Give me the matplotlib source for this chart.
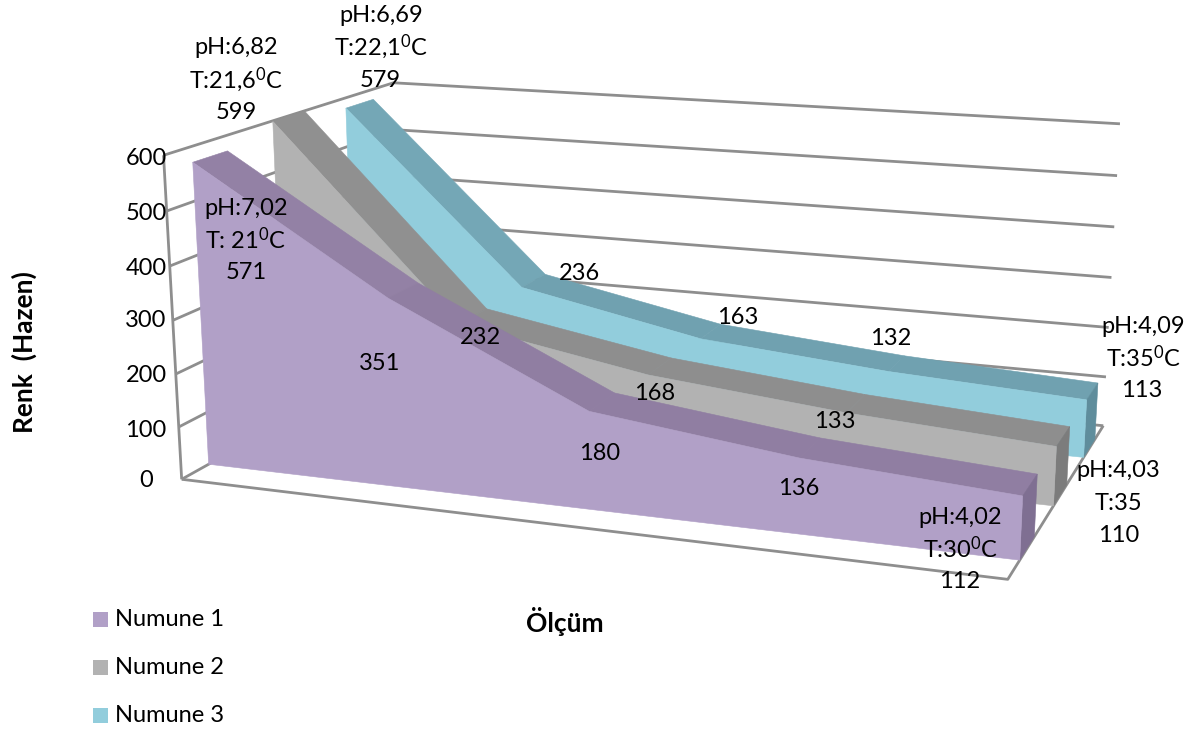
#!/usr/bin/python
# -*- coding: utf-8 -*-

import matplotlib
matplotlib.use('Agg')
import matplotlib.pyplot as plt
import numpy as np
from matplotlib.patches import Rectangle

# measurements per sample, five points along the x axis
numune_1 = [571, 351, 180, 136, 112]
numune_2 = [599, 232, 168, 133, 110]
numune_3 = [579, 236, 163, 132, 113]

series_names = ['Numune 1', 'Numune 2', 'Numune 3']
y_ticks = [0, 100, 200, 300, 400, 500, 600]

face_colors = ['#B1A0C7', '#B2B2B2', '#92CDDC']
top_colors = ['#9381A5', '#909090', '#74A7B6']
top_colors_far = ['#907EA2', '#8E8E8E', '#70A1B0']
end_colors = ['#7F6F92', '#7C7C7C', '#5F8D9C']
grid_color = '#8E8E8E'

# slot of each series along the depth axis
depth_slots = [(0.105, 0.24), (0.43, 0.57), (0.76, 0.895)]

Y_MAX = 600.0

# box corners (u, depth, height) and where they land on the canvas
box_corners = [(0, 0, 0), (1, 0, 0), (1, 1, 0), (0, 1, 0),
               (0, 0, 1), (0, 1, 1), (1, 1, 1)]
canvas_corners = [(181, 478), (1008, 580), (1103, 425), (402, 358),
                  (164, 156), (393, 82), (1120, 124)]


def fit_projection(world, canvas):
    rows = []
    for (x, y, z), (px, py) in zip(world, canvas):
        rows.append([x, y, z, 1, 0, 0, 0, 0, -px*x, -px*y, -px*z, -px])
        rows.append([0, 0, 0, 0, x, y, z, 1, -py*x, -py*y, -py*z, -py])
    _, _, vt = np.linalg.svd(np.array(rows, dtype=float))
    return vt[-1].reshape(3, 4)


P = fit_projection(box_corners, canvas_corners)


def project(u, d, value):
    q = P @ np.array([u, d, value / Y_MAX, 1.0])
    return q[0] / q[2], q[1] / q[2]


def polygon(ax, points, color, zorder):
    xs, ys = zip(*[project(*p) for p in points])
    ax.fill(xs, ys, facecolor=color, edgecolor=color, linewidth=0.4, zorder=zorder)


def line3d(ax, points):
    xs, ys = zip(*[project(*p) for p in points])
    ax.plot(xs, ys, color=grid_color, linewidth=2.0, solid_capstyle='butt', zorder=1)


def draw_area(ax, values, slot, face, top, top_far, end, zorder):
    d0, d1 = slot
    us = np.linspace(0, 1, len(values))
    for i in range(len(values) - 1):
        color = top if i == 0 else top_far
        polygon(ax, [(us[i], d0, values[i]), (us[i+1], d0, values[i+1]),
                     (us[i+1], d1, values[i+1]), (us[i], d1, values[i])], color, zorder)
    # closing end on the right
    polygon(ax, [(1, d0, 0), (1, d1, 0), (1, d1, values[-1]), (1, d0, values[-1])], end, zorder)
    front = [(u, d0, v) for u, v in zip(us, values)] + [(1, d0, 0), (0, d0, 0)]
    polygon(ax, front, face, zorder + 0.1)


plt.rcParams['font.family'] = ['Lato', 'DejaVu Sans']
plt.rcParams['mathtext.default'] = 'regular'

fig = plt.figure(figsize=(12.02, 7.29), dpi=100)
ax = fig.add_axes([0, 0, 1, 1])
ax.set_xlim(0, 1202)
ax.set_ylim(729, 0)
ax.axis('off')

# walls and floor outline
for tick in y_ticks:
    line3d(ax, [(0, 0, tick), (0, 1, tick), (1, 1, tick)])
line3d(ax, [(0, 0, 0), (0, 0, Y_MAX)])
line3d(ax, [(0, 0, 0), (1, 0, 0), (1, 1, 0)])

all_series = [numune_1, numune_2, numune_3]
for i in [2, 1, 0]:
    draw_area(ax, all_series[i], depth_slots[i], face_colors[i], top_colors[i],
              top_colors_far[i], end_colors[i], 3 + (2 - i))

TEXT_SIZE = 17

tick_y = [480, 430, 375, 320, 268, 213, 158]
for tick, y in zip(y_ticks, tick_y):
    ax.text(146, y, str(tick), ha='center', va='center', fontsize=TEXT_SIZE, zorder=10)

value_labels = [
    (381, 15, 'pH:6,69'), (381, 47, 'T:22,1$^{0}$C'), (380, 80, '579'),
    (236, 47, 'pH:6,82'), (236, 80, 'T:21,6$^{0}$C'), (236, 112, '599'),
    (246, 208, 'pH:7,02'), (246, 240, 'T: 21$^{0}$C'), (246, 272, '571'),
    (380, 363, '351'), (480, 337, '232'), (600, 453, '180'),
    (655, 393, '168'), (799, 488, '136'), (835, 421, '133'),
    (580, 273, '236'), (738, 317, '163'), (891, 338, '132'),
    (1143, 326, 'pH:4,09'), (1143, 358, 'T:35$^{0}$C'), (1142, 390, '113'),
    (1118, 470, 'pH:4,03'), (1118, 503, 'T:35'), (1119, 535, '110'),
    (960, 517, 'pH:4,02'), (960, 549, 'T:30$^{0}$C'), (960, 582, '112'),
]
for x, y, label in value_labels:
    ax.text(x, y, label, ha='center', va='center', fontsize=TEXT_SIZE, zorder=10)

ax.text(24, 352, 'Renk  (Hazen)', rotation=90, ha='center', va='center',
        fontsize=19, fontweight='bold')
ax.text(565, 622, 'Ölçüm', ha='center', va='center', fontsize=19, fontweight='bold')

# legend squares sit in a plain column under the plot
for i, name in enumerate(series_names):
    y = 612 + 48 * i
    ax.add_patch(Rectangle((93, y), 15, 15, facecolor=face_colors[i], edgecolor='none'))
    ax.text(115, y + 8, name, ha='left', va='center', fontsize=TEXT_SIZE)

plt.savefig('out.png', dpi=100)
